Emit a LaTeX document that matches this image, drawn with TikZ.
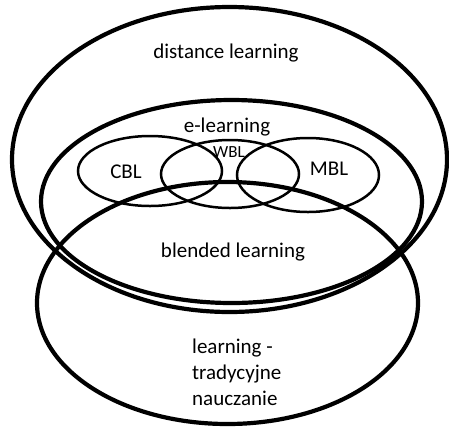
\documentclass[tikz,border=0pt]{standalone}
\usepackage{fontspec}
\setmainfont{Carlito}
\usetikzlibrary{positioning}
\tikzset{
  bigset/.style={line width=4.2pt},
  subset/.style={line width=2.5pt},
  setlabel/.style={font=\fontsize{21}{26}\selectfont, inner sep=0pt, anchor=base},
}

\begin{document}
\begin{tikzpicture}[x=1pt, y=-1pt]
    \useasboundingbox (0,0) rectangle (449,432);
    % large sets
    \draw[bigset] (229.5,159.5) ellipse [x radius=217.5, y radius=152.5];
    \draw[bigset] (231.5,201.5) ellipse [x radius=190.5, y radius=101.5];
    \draw[bigset] (227.5,303) ellipse [x radius=190.5, y radius=121];
    % small sets inside e-learning
    \draw[subset] (150,171) ellipse [x radius=72, y radius=35];
    \draw[subset] (230,174) ellipse [x radius=69, y radius=34];
    \draw[subset] (308,175) ellipse [x radius=71, y radius=37];
    % labels
    \node[setlabel] (distance) at (226,58) {distance learning};
    \node[setlabel] (elearning) at (227,132) {e-learning};
    \node[setlabel, font=\fontsize{17}{20}\selectfont] (wbl) at (229,157) {WBL};
    \node[setlabel] (cbl) at (126,178) {CBL};
    \node[setlabel] (mbl) at (329,175) {MBL};
    \node[setlabel] (blended) at (233,257) {blended learning};
    \node[setlabel, anchor=base west, align=left] (traditional) at (192,405)
        {learning -\\tradycyjne\\nauczanie};
\end{tikzpicture}
\end{document}
